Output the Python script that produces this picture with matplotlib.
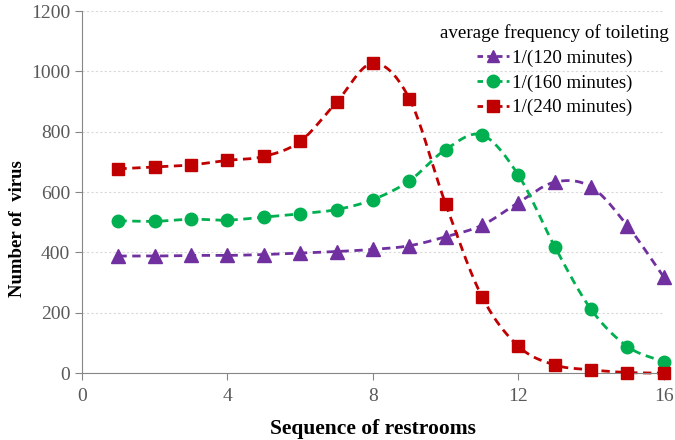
import numpy as np
import matplotlib
matplotlib.use("Agg")
import matplotlib.pyplot as plt

# data
seq = list(range(1, 17))
freq_120 = [388, 388, 390, 390, 393, 398, 403, 410, 422, 452, 490, 565, 633, 617, 488, 318]
freq_160 = [505, 503, 510, 507, 517, 528, 542, 575, 637, 741, 789, 656, 419, 211, 88, 37]
freq_240 = [677, 683, 690, 705, 718, 768, 898, 1027, 910, 560, 253, 89, 27, 11, 2, 0]

labels = ["1/(120 minutes)", "1/(160 minutes)", "1/(240 minutes)"]
colors = ["#7030A0", "#00B050", "#C00000"]
markers = ["^", "o", "s"]


def smooth(x, y, n=20):
    """Catmull-Rom curve through the points (like Excel's smoothed line)"""
    x = np.asarray(x, float)
    y = np.asarray(y, float)
    px = np.concatenate([[2 * x[0] - x[1]], x, [2 * x[-1] - x[-2]]])
    py = np.concatenate([[2 * y[0] - y[1]], y, [2 * y[-1] - y[-2]]])
    xs, ys = [], []
    t = np.linspace(0, 1, n, endpoint=False)
    for i in range(1, len(px) - 2):
        for p, out in ((px, xs), (py, ys)):
            p0, p1, p2, p3 = p[i - 1], p[i], p[i + 1], p[i + 2]
            out.extend(0.5 * ((2 * p1) + (-p0 + p2) * t
                              + (2 * p0 - 5 * p1 + 4 * p2 - p3) * t ** 2
                              + (-p0 + 3 * p1 - 3 * p2 + p3) * t ** 3))
    xs.append(x[-1])
    ys.append(y[-1])
    return np.array(xs), np.array(ys)


plt.rcParams['font.family'] = ['Liberation Serif', 'DejaVu Serif']

fig = plt.figure(figsize=(6.75, 4.4), dpi=100)
ax = fig.add_axes([0.1215, 0.152, 0.862, 0.823])

for ys, lab, c, m in zip([freq_120, freq_160, freq_240], labels, colors, markers):
    sx, sy = smooth(seq, ys)
    ax.plot(sx, sy, color=c, lw=2, ls=(0, (3, 2)), clip_on=False)
    ax.plot(seq, ys, ls="none", marker=m, color=c, markersize=9 if m != "^" else 10,
            clip_on=False, zorder=5)
    # proxy for the legend
    ax.plot([], [], color=c, lw=2, ls=(0, (2, 1.5)), marker=m, markersize=9, label=lab)

ax.set_xlim(0, 16)
ax.set_ylim(0, 1200)
ax.set_xticks([0, 4, 8, 12, 16])
ax.set_yticks(range(0, 1201, 200))
ax.yaxis.grid(True, ls=(0, (2, 2)), color="#D9D9D9", lw=0.8)
ax.set_axisbelow(True)

for s in ["top", "right"]:
    ax.spines[s].set_visible(False)
for s in ["left", "bottom"]:
    ax.spines[s].set_color("#868686")
ax.tick_params(colors="#868686", labelcolor="#595959", labelsize=14, length=5, direction="out")
ax.tick_params(axis="x", pad=6)

ax.set_xlabel("Sequence of restrooms", fontsize=15.5, fontweight="bold", labelpad=10)
ax.set_ylabel("Number of  virus", fontsize=13.5, fontweight="bold")
ax.yaxis.set_label_coords(-0.097, 0.40)

leg = ax.legend(title="average frequency of toileting", loc="upper right",
                bbox_to_anchor=(1.022, 0.985), frameon=False, fontsize=13.6,
                title_fontsize=13.7, handlelength=1.7, handletextpad=0.15,
                labelspacing=0.4, borderaxespad=0)

fig.savefig("out.png", dpi=100)
